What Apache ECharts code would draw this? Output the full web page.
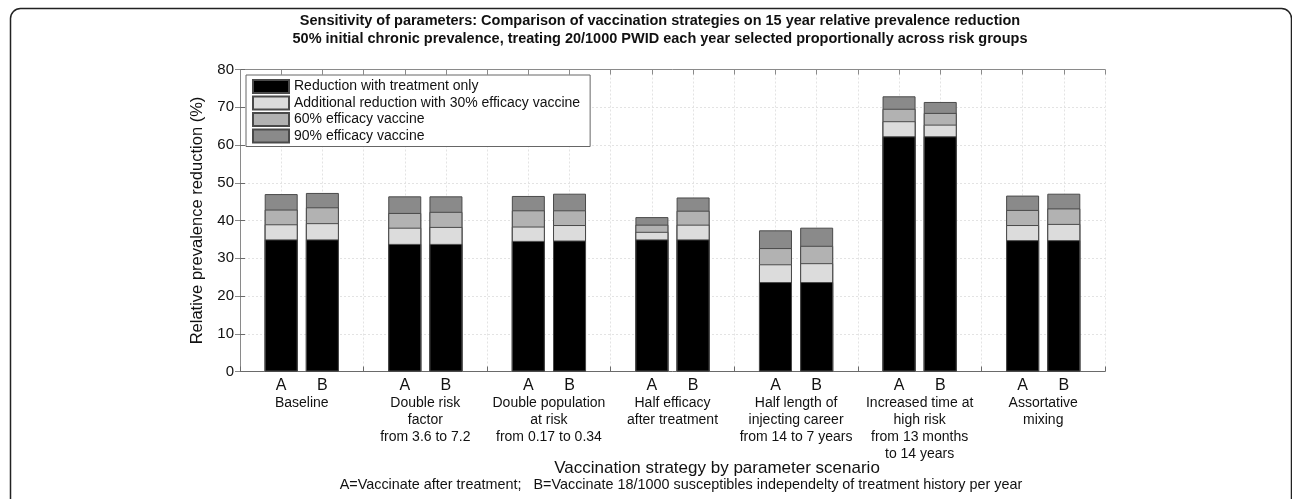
<!DOCTYPE html>
<html>
<head>
<meta charset="utf-8">
<script src="https://cdn.jsdelivr.net/npm/echarts@6/dist/echarts.min.js"></script>
<style>html,body{margin:0;padding:0;background:#fff}#c{width:1292px;height:499px}</style>
</head>
<body>
<div id="c"></div>
<script>
// ---- data ----
const groupLabels = [
  'Baseline',
  'Double risk\nfactor\nfrom 3.6 to 7.2',
  'Double population\nat risk\nfrom 0.17 to 0.34',
  'Half efficacy\nafter treatment',
  'Half length of\ninjecting career\nfrom 14 to 7 years',
  'Increased time at\nhigh risk\nfrom 13 months\nto 14 years',
  'Assortative\nmixing'
];
const strategies = ['A', 'B'];
const seriesNames = [
  'Reduction with treatment only',
  'Additional reduction with 30% efficacy vaccine',
  '60% efficacy vaccine',
  '90% efficacy vaccine'
];
// cumulative tops of each stacked layer, order: group1 A, group1 B, group2 A, ...
const treatmentOnly = [35.0, 35.0, 33.8, 33.8, 34.6, 34.7, 35.0, 35.0, 23.7, 23.7, 62.3, 62.3, 34.8, 34.8];
const vaccine30Top  = [39.0, 39.3, 38.1, 38.3, 38.4, 38.8, 37.0, 38.9, 28.4, 28.7, 66.3, 65.4, 38.8, 39.1];
const vaccine60Top  = [42.9, 43.5, 42.0, 42.3, 42.7, 42.7, 38.9, 42.6, 32.7, 33.3, 69.6, 68.5, 42.8, 43.2];
const vaccine90Top  = [47.0, 47.3, 46.4, 46.4, 46.5, 47.1, 40.9, 46.1, 37.4, 38.1, 72.9, 71.4, 46.6, 47.1];
const yTicks = [0, 10, 20, 30, 40, 50, 60, 70, 80];
const titleText = 'Sensitivity of parameters: Comparison of vaccination strategies on 15 year relative prevalence reduction\n50% initial chronic prevalence, treating 20/1000 PWID each year selected proportionally across risk groups';
const xName = 'Vaccination strategy by parameter scenario';
const noteText = 'A=Vaccinate after treatment;   B=Vaccinate 18/1000 susceptibles independelty of treatment history per year';
const yName = 'Relative prevalence reduction (%)';

// ---- build ----
const slot = strategies.length + 1;               // bars + gap per group
const xMax = groupLabels.length * slot;
const xPos = i => Math.floor(i / strategies.length) * slot + (i % strategies.length) + 1;
const layers = [treatmentOnly, vaccine30Top, vaccine60Top, vaccine90Top];
const colors = ['#000000', '#dcdcdc', '#b2b2b2', '#8a8a8a'];
const FONT = "'Liberation Sans', Arial, sans-serif";

// draw layers back-to-front: the tallest cumulative layer first, the treatment-only layer last
const series = layers.map((arr, k) => ({
  name: seriesNames[k],
  type: 'bar',
  barWidth: 33,
  barGap: '-100%',
  xAxisIndex: 0,
  yAxisIndex: 0,
  z: 10 - k,
  itemStyle: { color: colors[k], borderColor: '#4a4a4a', borderWidth: 1 },
  emphasis: { disabled: true },
  data: arr.map((v, i) => [xPos(i), v])
})).reverse();

const chart = echarts.init(document.getElementById('c'), null, { renderer: 'canvas' });
chart.setOption({
  animation: false,
  backgroundColor: '#fff',
  textStyle: { fontFamily: FONT },
  grid: { left: 240, right: 187, top: 69.5, bottom: 127.5, containLabel: false },
  legend: {
    orient: 'vertical', left: 246, top: 75,
    padding: [4, 10, 3, 6], itemGap: 1.5, itemWidth: 36, itemHeight: 13,
    icon: 'rect',
    backgroundColor: '#fff', borderColor: '#666', borderWidth: 1,
    textStyle: { fontFamily: FONT, fontSize: 14, color: '#111' },
    data: seriesNames
  },
  xAxis: [
    {
      type: 'value', min: 0, max: xMax, interval: 1, position: 'bottom',
      axisLine: { lineStyle: { color: '#6a6a6a', width: 1 } },
      axisTick: { inside: true, length: 5, lineStyle: { color: '#6a6a6a' } },
      axisLabel: {
        fontSize: 16, color: '#111', margin: 6, fontFamily: FONT,
        formatter: v => { const r = v % slot; return (r >= 1 && r <= strategies.length) ? strategies[r - 1] : ''; }
      },
      splitLine: { show: true, lineStyle: { color: '#e3e3e3', type: [2, 2] } }
    },
    {
      type: 'category', data: groupLabels, position: 'bottom', offset: 17,
      boundaryGap: true,
      axisLine: { show: false }, axisTick: { show: false }, splitLine: { show: false },
      axisLabel: { fontSize: 14, lineHeight: 17, color: '#111', fontFamily: FONT, interval: 0, margin: 6, verticalAlign: 'top' }
    },
    {
      type: 'value', min: 0, max: xMax, interval: 1, position: 'top',
      axisLine: { lineStyle: { color: '#8a8a8a' } },
      axisTick: { inside: true, length: 5, lineStyle: { color: '#8a8a8a' } },
      axisLabel: { show: false }, splitLine: { show: false }
    }
  ],
  yAxis: [
    {
      type: 'value', min: yTicks[0], max: yTicks[yTicks.length - 1], interval: yTicks[1] - yTicks[0],
      name: yName, nameLocation: 'middle', nameGap: 25,
      nameTextStyle: { fontSize: 16.5, color: '#111', fontFamily: FONT },
      axisLine: { show: true, lineStyle: { color: '#6a6a6a' } },
      axisTick: { show: true, inside: true, length: 5, lineStyle: { color: '#6a6a6a' } },
      axisLabel: { fontSize: 15, color: '#111', margin: 6, fontFamily: FONT },
      splitLine: { show: true, lineStyle: { color: '#e3e3e3', type: [2, 2] } }
    },
    {
      type: 'value', min: yTicks[0], max: yTicks[yTicks.length - 1], interval: yTicks[1] - yTicks[0],
      position: 'right',
      axisLine: { show: true, lineStyle: { color: '#8a8a8a' } },
      axisTick: { show: true, inside: true, length: 5, lineStyle: { color: '#8a8a8a' } },
      axisLabel: { show: false }, splitLine: { show: false }
    }
  ],
  graphic: [
    { type: 'rect', shape: { x: 10.5, y: 8.5, width: 1281, height: 520, r: 10 }, style: { fill: null, stroke: '#222', lineWidth: 1.5 }, silent: true, z: 100 },
    { type: 'text', style: { text: titleText, x: 660, y: 12, font: "bold 14.5px 'Liberation Sans', Arial, sans-serif", fill: '#111', textAlign: 'center', lineHeight: 18 }, z: 100 },
    { type: 'text', style: { text: xName, x: 717, y: 460, font: "17px 'Liberation Sans', Arial, sans-serif", fill: '#111', textAlign: 'center' }, z: 100 },
    { type: 'text', style: { text: noteText, x: 681, y: 478, font: "14.4px 'Liberation Sans', Arial, sans-serif", fill: '#111', textAlign: 'center' }, z: 100 }
  ],
  series: series
});
</script>
</body>
</html>
